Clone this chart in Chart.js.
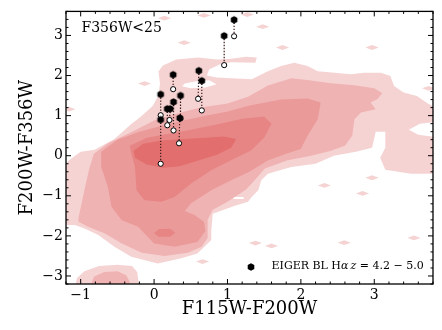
<!DOCTYPE html>
<html><head><meta charset="utf-8">
<script src="https://cdn.jsdelivr.net/npm/chart.js@4/dist/chart.umd.min.js"></script>
<style>html,body{margin:0;padding:0;background:#fff;}</style>
</head><body>
<canvas id="c" width="442" height="330"></canvas>
<script>
// ---- axes ----
const xTicks = [-1, 0, 1, 2, 3];
const yTicks = [-3, -2, -1, 0, 1, 2, 3];
const xRange = [-1.2, 3.8];
const yRange = [-3.2, 3.6];
const xLabel = 'F115W-F200W';
const yLabel = 'F200W-F356W';
const panelLabel = 'F356W<25';

// ---- EIGER broad-line Halpha emitters (filled) and their corrected colours (open) ----
const filledX = [1.09, 0.955, 0.61, 0.65, 0.26, 0.09, 0.09, 0.36, 0.35, 0.265, 0.18, 0.22];
const filledY = [3.39, 2.99, 2.12, 1.87, 2.02, 1.53, 0.90, 1.50, 0.94, 1.34, 1.17, 1.17];
const openX   = [1.09, 0.955, 0.60, 0.65, 0.26, 0.09, 0.09, 0.36, 0.34, 0.265, 0.18, 0.21];
const openY   = [2.98, 2.26, 1.42, 1.13, 1.66, 1.01, -0.20, 0.93, 0.31, 0.63, 0.76, 0.89];

// ---- density contours (data coordinates), outermost level first ----
const level1 = [
 [[-1.3,-0.35],[-1.15,-0.1],[-1.0,0.1],[-0.81,0.15],[-0.54,0.42],[-0.31,0.79],[-0.17,0.99],[-0.02,1.24],[0.06,1.5],[0.08,1.8],[0.06,2.1],[0.12,2.25],[0.3,2.4],[0.6,2.45],[0.86,2.4],[1.05,2.42],[1.25,2.47],[1.4,2.45],[1.38,2.32],[1.05,2.33],[0.9,2.28],[0.75,2.15],[0.72,2.0],[0.85,1.95],[1.05,1.93],[1.33,1.91],[1.55,2.11],[1.73,2.24],[1.91,2.32],[2.09,2.24],[2.23,2.11],[2.46,2.07],[2.68,2.03],[2.86,2.07],[3.09,2.07],[3.22,1.99],[3.27,1.74],[3.4,1.58],[3.58,1.49],[3.74,1.29],[3.9,1.15],[3.9,0.85],[3.62,0.8],[3.47,0.65],[3.6,0.52],[3.9,0.45],[3.9,-0.45],[3.5,-0.45],[3.15,-0.35],[3.08,-0.05],[3.15,0.2],[3.15,0.6],[3.02,0.6],[2.97,0.2],[2.75,0.1],[2.45,0.0],[2.2,-0.2],[1.87,-0.28],[1.55,-0.45],[1.46,-0.61],[1.42,-0.86],[1.33,-1.03],[1.28,-1.15],[1.1,-1.25],[0.95,-1.35],[0.8,-1.45],[0.78,-1.86],[0.78,-2.1],[0.59,-2.44],[0.37,-2.56],[0.05,-2.69],[-0.31,-2.52],[-0.54,-2.27],[-0.76,-1.98],[-0.94,-1.82],[-1.08,-1.73],[-1.3,-1.73]],
 [[-1.08,-3.3],[-1.05,-3.05],[-0.95,-2.88],[-0.75,-2.75],[-0.5,-2.72],[-0.3,-2.75],[-0.23,-2.9],[-0.2,-3.3]]
];
const level1Islands = [[-0.13,1.8],[0.41,2.82],[0.14,3.43],[0.68,3.5],[1.27,3.52],[1.48,3.22],[1.75,2.7],[2.97,2.7],[3.74,1.68],[2.97,-0.55],[2.32,-0.74],[2.84,-0.94],[2.59,-2.17],[3.54,-2.05],[1.6,-2.25],[1.38,-2.18],[0.66,-2.64],[-1.16,1.16]];
const holes = [
 [[0.38,1.73],[0.5,1.68],[0.7,1.7],[0.85,1.78],[0.75,1.88],[0.55,1.85],[0.42,1.8]],
 [[1.08,-1.03],[1.22,-1.03],[1.22,-1.08],[1.08,-1.08]]
];
const level2 = [
 [[-1.03,-1.55],[-0.94,-0.78],[-0.88,-0.3],[-0.82,0.05],[-0.62,0.32],[-0.3,0.6],[0.0,0.88],[0.3,1.05],[0.63,1.2],[1.0,1.3],[1.28,1.47],[1.55,1.75],[1.87,1.93],[2.09,1.89],[2.41,1.81],[2.73,1.76],[3.0,1.68],[3.11,1.56],[3.04,1.41],[2.95,1.33],[3.02,1.16],[2.82,1.08],[2.73,0.91],[2.7,0.5],[2.6,0.25],[2.4,0.12],[2.14,0.0],[1.82,-0.11],[1.51,-0.32],[1.37,-0.61],[1.25,-0.85],[1.0,-1.15],[0.8,-1.35],[0.73,-1.6],[0.73,-2.05],[0.65,-2.27],[0.46,-2.42],[0.14,-2.5],[-0.17,-2.42],[-0.44,-2.19],[-0.67,-1.94],[-0.9,-1.77],[-1.03,-1.65]],
 [[-0.88,-3.3],[-0.82,-3.02],[-0.68,-2.9],[-0.5,-2.88],[-0.38,-2.98],[-0.33,-3.15],[-0.35,-3.3]]
];
const level3 = [
 [[-0.72,0.1],[-0.5,0.4],[-0.2,0.6],[0.1,0.75],[0.4,0.88],[0.7,1.0],[1.0,1.1],[1.3,1.25],[1.73,1.4],[2.09,1.43],[2.27,1.33],[2.23,0.91],[2.09,0.5],[2.0,0.17],[1.8,0.05],[1.55,-0.12],[1.3,-0.4],[1.05,-0.61],[0.78,-0.86],[0.5,-1.19],[0.42,-1.38],[0.55,-1.48],[0.68,-1.65],[0.7,-1.88],[0.59,-2.15],[0.28,-2.27],[0.0,-2.19],[-0.13,-1.94],[-0.22,-1.77],[-0.44,-1.61],[-0.58,-1.28],[-0.63,-0.78],[-0.72,-0.28]]
];
const level4 = [
 [[-0.33,0.25],[-0.1,0.45],[0.2,0.55],[0.5,0.65],[0.85,0.78],[1.2,0.92],[1.5,0.98],[1.6,0.8],[1.5,0.45],[1.32,0.13],[1.05,-0.11],[0.78,-0.36],[0.5,-0.7],[0.28,-1.03],[0.1,-1.15],[-0.13,-1.11],[-0.24,-0.86],[-0.26,-0.28],[-0.31,0.05]],
 [[0.0,-1.93],[0.07,-1.83],[0.22,-1.82],[0.29,-1.92],[0.22,-2.02],[0.06,-2.02]]
];
const level5 = [
 [[-0.28,0.12],[-0.15,0.3],[0.1,0.38],[0.4,0.42],[0.7,0.45],[0.95,0.48],[1.12,0.42],[1.05,0.2],[0.85,0.02],[0.6,-0.12],[0.35,-0.26],[0.12,-0.3],[-0.1,-0.22],[-0.26,-0.05]]
];
const levelColors = ['#f6d3d3', '#f0b3b3', '#eb9a9a', '#e78585', '#e36e6e'];

// ---- helpers ----
function islandPolys(centers){
  const hw = 0.09, hh = 0.06;
  return centers.map(([cx,cy]) => [[cx-hw,cy],[cx,cy+hh],[cx+hw,cy],[cx,cy-hh]]);
}
function polyData(polys){
  const out = [];
  polys.forEach((p,i) => { if (i) out.push({x:null,y:null}); p.forEach(([x,y]) => out.push({x:x,y:y})); });
  return out;
}
function contourSet(polys, color, order){
  return {type:'line', data: polyData(polys), fill:'shape', backgroundColor: color,
    borderWidth:0, borderColor:'rgba(0,0,0,0)', pointRadius:0, pointHoverRadius:0,
    tension:0, spanGaps:false, order: order};
}
function hexCanvas(r){
  const s = Math.ceil(2*r+2);
  const c = document.createElement('canvas'); c.width = s; c.height = s;
  const g = c.getContext('2d'); g.fillStyle = '#000'; g.beginPath();
  for (let i=0;i<6;i++){ const a = Math.PI/2 + i*Math.PI/3;
    const px = s/2 + r*Math.cos(a), py = s/2 - r*Math.sin(a);
    if (i) g.lineTo(px,py); else g.moveTo(px,py); }
  g.closePath(); g.fill(); return c;
}
const hex = hexCanvas(3.8);

const connectors = [];
filledX.forEach((x,i) => { if (i) connectors.push({x:null,y:null});
  connectors.push({x:x, y:filledY[i]}); connectors.push({x:openX[i], y:openY[i]}); });

const serif = 'DejaVu Serif';
const minus = v => String(v).replace('-', '\u2212');

// ---- frame, inward ticks, labels, legend ----
const decor = {
  id:'decor',
  afterDatasetsDraw(chart){
    const {ctx, chartArea:a, scales:{x, y}} = chart;
    ctx.save();
    ctx.strokeStyle = '#000';
    ctx.lineWidth = 1;
    const maj = 5, mnr = 2.5;
    function tickX(v, len){ const px = x.getPixelForValue(v);
      ctx.beginPath(); ctx.moveTo(px, a.bottom); ctx.lineTo(px, a.bottom-len);
      ctx.moveTo(px, a.top); ctx.lineTo(px, a.top+len); ctx.stroke(); }
    function tickY(v, len){ const py = y.getPixelForValue(v);
      ctx.beginPath(); ctx.moveTo(a.left, py); ctx.lineTo(a.left+len, py);
      ctx.moveTo(a.right, py); ctx.lineTo(a.right-len, py); ctx.stroke(); }
    for (let k = Math.ceil(xRange[0]*5); k <= Math.floor(xRange[1]*5); k++){
      const v = k/5; tickX(v, (k % 5 === 0) ? maj : mnr); }
    for (let k = Math.ceil(yRange[0]*5); k <= Math.floor(yRange[1]*5); k++){
      const v = k/5; tickY(v, (k % 5 === 0) ? maj : mnr); }
    ctx.lineWidth = 1.3;
    ctx.strokeRect(a.left, a.top, a.right-a.left, a.bottom-a.top);

    // panel label
    ctx.fillStyle = '#000';
    ctx.textBaseline = 'alphabetic';
    ctx.textAlign = 'left';
    ctx.font = '14px "' + serif + '"';
    ctx.fillText(panelLabel, a.left + 15.5, a.top + 21);

    // legend
    const mx = a.right - 182, my = a.bottom - 17.5;
    ctx.drawImage(hex, Math.round(mx - hex.width/2), Math.round(my - hex.height/2));
    let tx = mx + 20.5; const ty = a.bottom - 14.8;
    const parts = [['EIGER BL H', false], ['\u03b1', true], ['\u2009', false], ['z', true], [' = 4.2 \u2212 5.0', false]];
    parts.forEach(([t, it]) => {
      ctx.font = (it ? 'italic ' : '') + '11px "' + serif + '"';
      ctx.fillText(t, tx, ty); tx += ctx.measureText(t).width; });
    ctx.restore();
  }
};

new Chart(document.getElementById('c'), {
  type: 'scatter',
  data: { datasets: [
    {type:'scatter', label:'EIGER BL H\u03b1 z=4.2-5.0', data: filledX.map((x,i)=>({x:x, y:filledY[i]})),
      pointStyle: hex, pointRadius:4, order:0},
    {type:'scatter', label:'corrected', data: openX.map((x,i)=>({x:x, y:openY[i]})),
      pointStyle:'circle', pointRadius:2.6, borderWidth:1, borderColor:'#000', backgroundColor:'#fff', order:1},
    {type:'line', label:'link', data: connectors, borderColor:'#3a1a1a', borderWidth:1.2, borderDash:[1.3,1.7],
      pointRadius:0, fill:false, spanGaps:false, tension:0, order:2},
    contourSet(level5, levelColors[4], 3),
    contourSet(level4, levelColors[3], 4),
    contourSet(level3, levelColors[2], 5),
    contourSet(level2, levelColors[1], 6),
    contourSet(holes, '#ffffff', 7),
    contourSet(level1.concat(islandPolys(level1Islands)), levelColors[0], 8)
  ]},
  options: {
    responsive:false, animation:false, devicePixelRatio:1, events:[],
    layout:{padding:{left:0, right:9, top:9, bottom:0}},
    plugins:{legend:{display:false}, tooltip:{enabled:false}},
    scales:{
      x:{type:'linear', position:'bottom', min:xRange[0], max:xRange[1],
        grid:{display:false, drawTicks:false}, border:{display:false},
        afterBuildTicks: ax => { ax.ticks = xTicks.map(v=>({value:v})); },
        afterFit: s => { s.height = 46; },
        ticks:{autoSkip:false, maxRotation:0, padding:3, color:'#000', font:{family:serif, size:14}, callback: minus},
        title:{display:true, text:xLabel, color:'#000', font:{family:serif, size:18}, padding:{top:0, bottom:10}}},
      y:{type:'linear', position:'left', min:yRange[0], max:yRange[1],
        grid:{display:false, drawTicks:false}, border:{display:false},
        afterBuildTicks: ax => { ax.ticks = yTicks.map(v=>({value:v})); },
        afterFit: s => { s.width = 66; },
        ticks:{autoSkip:false, padding:3, color:'#000', font:{family:serif, size:14}, callback: minus},
        title:{display:true, text:yLabel, color:'#000', font:{family:serif, size:18}, padding:{top:17, bottom:0}}}
    }
  },
  plugins:[decor]
});
</script>
</body></html>
